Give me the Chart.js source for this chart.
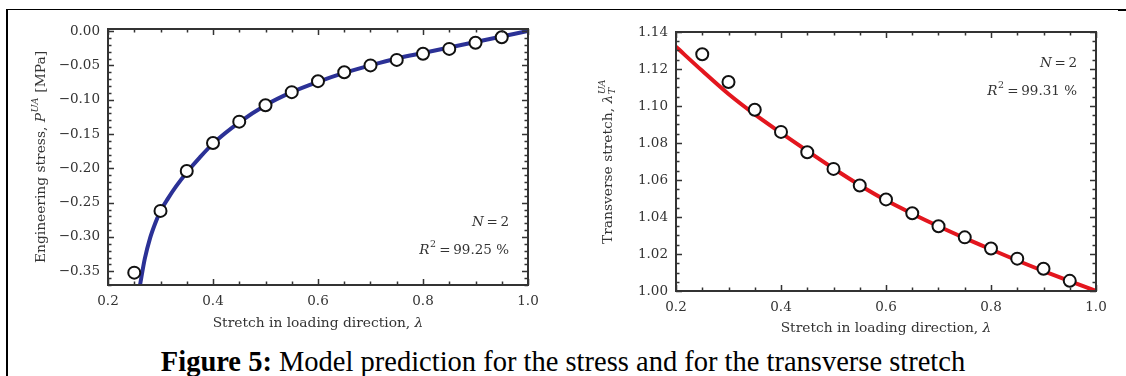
<!DOCTYPE html>
<html>
<head>
<meta charset="utf-8">
<script src="https://cdn.jsdelivr.net/npm/chart.js@4.4.0/dist/chart.umd.min.js"></script>
<style>
  body { margin: 0; background: #fff; width: 1126px; height: 376px; overflow: hidden; position: relative; }
  #frame { position: absolute; left: 6px; top: 9px; width: 1120px; height: 367px; border-top: 1px solid #000; border-left: 2px solid #000; box-sizing: border-box; }
  #cornerMark { position: absolute; left: 1118px; top: 9px; width: 8px; height: 2px; background: #000; }
  #stressChart { position: absolute; left: 0; top: 0; }
  #transChart { position: absolute; left: 560px; top: 0; }
  #caption { position: absolute; left: 0; width: 1126px; top: 346px; text-align: center; font-family: 'Liberation Serif', 'Times New Roman', serif; font-size: 28.5px; line-height: 32px; color: #000; white-space: nowrap; }
</style>
</head>
<body>
<div id="frame"></div>
<div id="cornerMark"></div>
<canvas id="stressChart" width="560" height="340"></canvas>
<canvas id="transChart" width="566" height="345"></canvas>
<div id="caption"><b>Figure 5:</b> Model prediction for the stress and for the transverse stretch</div>
<script>
// Tick labels
const xTicks = [0.2, 0.4, 0.6, 0.8, 1.0];
const stressTicks = [0, -0.05, -0.1, -0.15, -0.2, -0.25, -0.3, -0.35];
const transTicks = [1.0, 1.02, 1.04, 1.06, 1.08, 1.1, 1.12, 1.14];

// Measured points (open circles)
const stretchPts = [0.25, 0.3, 0.35, 0.4, 0.45, 0.5, 0.55, 0.6, 0.65, 0.7, 0.75, 0.8, 0.85, 0.9, 0.95];
const stressPts = [-0.352, -0.262, -0.204, -0.163, -0.132, -0.108, -0.089, -0.073, -0.060, -0.050, -0.042, -0.033, -0.026, -0.017, -0.009];
const transPts = [1.128, 1.113, 1.098, 1.086, 1.075, 1.066, 1.057, 1.0495, 1.042, 1.035, 1.029, 1.023, 1.0175, 1.012, 1.0055];

// Model curves (N = 2)
const stressFitX = [0.261, 0.27, 0.28, 0.29, 0.3, 0.315, 0.33, 0.35, 0.375, 0.4, 0.45, 0.5, 0.55, 0.6, 0.65, 0.7, 0.75, 0.8, 0.85, 0.9, 0.95, 1.0];
const stressFitY = [-0.370, -0.332, -0.302, -0.280, -0.262, -0.243, -0.226, -0.206, -0.184, -0.164, -0.133, -0.108, -0.089, -0.074, -0.061, -0.050, -0.040, -0.032, -0.024, -0.016, -0.008, 0.000];
const transFitX = [0.2, 0.25, 0.3, 0.35, 0.4, 0.45, 0.5, 0.55, 0.6, 0.65, 0.7, 0.75, 0.8, 0.85, 0.9, 0.95, 1.0];
const transFitY = [1.132, 1.119, 1.1065, 1.0955, 1.0855, 1.0757, 1.0662, 1.0572, 1.049, 1.0418, 1.035, 1.0286, 1.0225, 1.0165, 1.0108, 1.0053, 1.000];

const FAMILY = "'DejaVu Serif', serif";
const INK = '#333';

function toPoints(xs, ys) {
    return xs.map((x, i) => ({ x: x, y: ys[i] }));
}

// Draw a run of text pieces (italic, super/subscripts) on one baseline
function drawRich(ctx, parts, x, y, size, align) {
    const fontFor = (p, s) => (p.it ? 'italic ' : '') + s + 'px ' + FAMILY;
    const small = size * 0.7;
    const widths = parts.map(p => {
        if (p.sup !== undefined || p.sub !== undefined) {
            ctx.font = fontFor(p, small);
            return Math.max(ctx.measureText(p.sup || '').width, ctx.measureText(p.sub || '').width) + 1;
        }
        ctx.font = fontFor(p, size);
        return ctx.measureText(p.t).width;
    });
    const total = widths.reduce((a, b) => a + b, 0);
    let cx = align === 'right' ? x - total : align === 'center' ? x - total / 2 : x;
    ctx.textAlign = 'left';
    ctx.textBaseline = 'middle';
    parts.forEach((p, i) => {
        if (p.sup !== undefined || p.sub !== undefined) {
            ctx.font = fontFor(p, small);
            if (p.sup) ctx.fillText(p.sup, cx + 0.5, y - size * 0.4);
            if (p.sub) ctx.fillText(p.sub, cx + 0.5, y + size * 0.3);
        } else {
            ctx.font = fontFor(p, size);
            ctx.fillText(p.t, cx, y);
        }
        cx += widths[i];
    });
}

// Inward ticks on all four sides, the plot frame, axis titles and notes
function decorPlugin(cfg) {
    return {
        id: 'decor',
        afterDraw(chart) {
            const ctx = chart.ctx;
            const a = chart.chartArea;
            const sx = chart.scales.x;
            const sy = chart.scales.y;
            ctx.save();
            ctx.strokeStyle = INK;
            ctx.lineWidth = 1.5;
            ctx.beginPath();
            const nx = Math.round((sx.max - sx.min) / cfg.xMinor);
            for (let i = 0; i <= nx; i++) {
                const v = sx.min + i * cfg.xMinor;
                const px = Math.round(sx.getPixelForValue(v)) + 0.5;
                const major = xTicks.some(m => Math.abs(m - v) < 1e-6);
                const len = major ? 6 : 3.5;
                ctx.moveTo(px, a.bottom); ctx.lineTo(px, a.bottom - len);
                ctx.moveTo(px, a.top); ctx.lineTo(px, a.top + len);
            }
            const y0 = Math.ceil(sy.min / cfg.yMinor - 1e-6);
            const y1 = Math.floor(sy.max / cfg.yMinor + 1e-6);
            for (let k = y0; k <= y1; k++) {
                const v = k * cfg.yMinor;
                const py = Math.round(sy.getPixelForValue(v)) + 0.5;
                const major = cfg.yMajor.some(m => Math.abs(m - v) < 1e-6);
                const len = major ? 6 : 3.5;
                ctx.moveTo(a.left, py); ctx.lineTo(a.left + len, py);
                ctx.moveTo(a.right, py); ctx.lineTo(a.right - len, py);
            }
            ctx.stroke();
            ctx.lineWidth = 2;
            ctx.strokeRect(a.left, a.top, a.right - a.left, a.bottom - a.top);

            ctx.fillStyle = INK;
            // x title
            drawRich(ctx, [{ t: 'Stretch in loading direction, ' }, { t: 'λ', it: true }],
                (a.left + a.right) / 2, cfg.xTitleY, 13.8, 'center');
            // y title (rotated)
            ctx.save();
            ctx.translate(cfg.yTitleX, (a.top + a.bottom) / 2);
            ctx.rotate(-Math.PI / 2);
            drawRich(ctx, cfg.yTitle, 0, 0, 13.8, 'center');
            ctx.restore();
            // notes
            drawRich(ctx, [{ t: 'N', it: true }, { t: '\u2009=\u20092' }], a.right - 19, cfg.noteY[0], 13.5, 'right');
            drawRich(ctx, [{ t: 'R', it: true }, { sup: '2' }, { t: '\u2009=\u2009' + cfg.r2 + ' %' }], a.right - 19, cfg.noteY[1], 13.5, 'right');
            ctx.restore();
        }
    };
}

function fixedTicks(list) {
    return scale => { scale.ticks = list.map(v => ({ value: v })); };
}

function buildChart(canvasId, opts) {
    return new Chart(document.getElementById(canvasId), {
        type: 'scatter',
        data: {
            datasets: [
                {
                    data: toPoints(stretchPts, opts.points),
                    showLine: false,
                    pointRadius: 6,
                    pointBorderWidth: 2,
                    pointBackgroundColor: '#fff',
                    pointBorderColor: '#111',
                    order: 0
                },
                {
                    data: toPoints(opts.fitX, opts.fitY),
                    showLine: true,
                    pointRadius: 0,
                    borderColor: opts.color,
                    borderWidth: 4,
                    cubicInterpolationMode: 'monotone',
                    order: 1
                }
            ]
        },
        options: {
            responsive: false,
            animation: false,
            devicePixelRatio: 1,
            layout: { padding: opts.padding },
            plugins: { legend: { display: false }, tooltip: { enabled: false } },
            scales: {
                x: {
                    type: 'linear', min: 0.2, max: 1.0,
                    afterBuildTicks: fixedTicks(xTicks),
                    afterFit: s => { s.height = opts.xHeight; },
                    grid: { display: false, drawTicks: false },
                    border: { display: false },
                    ticks: { padding: 8, color: INK, font: { family: FAMILY, size: 13.5 }, callback: v => v.toFixed(1) }
                },
                y: {
                    type: 'linear', min: opts.yMin, max: opts.yMax,
                    afterBuildTicks: fixedTicks(opts.yTicks),
                    afterFit: s => { s.width = opts.yWidth; },
                    grid: { display: false, drawTicks: false },
                    border: { display: false },
                    ticks: {
                        padding: 8, color: INK, font: { family: FAMILY, size: 13.5 },
                        callback: v => (v < -1e-9 ? '\u2212' + Math.abs(v).toFixed(2) : Math.abs(v).toFixed(2))
                    }
                }
            }
        },
        plugins: [decorPlugin(opts.decor)]
    });
}

buildChart('stressChart', {
    points: stressPts, fitX: stressFitX, fitY: stressFitY, color: '#2b3196',
    yMin: -0.37, yMax: 0.003, yTicks: stressTicks,
    padding: { top: 29, right: 32, left: 0, bottom: 0 }, xHeight: 55, yWidth: 108,
    decor: {
        xMinor: 0.05, yMinor: 0.01, yMajor: stressTicks,
        xTitleY: 323, yTitleX: 41,
        yTitle: [{ t: 'Engineering stress, ' }, { t: 'P', it: true }, { sup: 'UA', it: true }, { t: ' [MPa]' }],
        noteY: [222, 250], r2: '99.25'
    }
});

buildChart('transChart', {
    points: transPts, fitX: transFitX, fitY: transFitY, color: '#e3161e',
    yMin: 1.0, yMax: 1.14, yTicks: transTicks,
    padding: { top: 32, right: 30, left: 0, bottom: 0 }, xHeight: 54, yWidth: 116,
    decor: {
        xMinor: 0.05, yMinor: 0.005, yMajor: transTicks,
        xTitleY: 328, yTitleX: 48,
        yTitle: [{ t: 'Transverse stretch, ' }, { t: 'λ', it: true }, { sup: 'UA', sub: 'T', it: true }],
        noteY: [63, 91], r2: '99.31'
    }
});
</script>
</body>
</html>
